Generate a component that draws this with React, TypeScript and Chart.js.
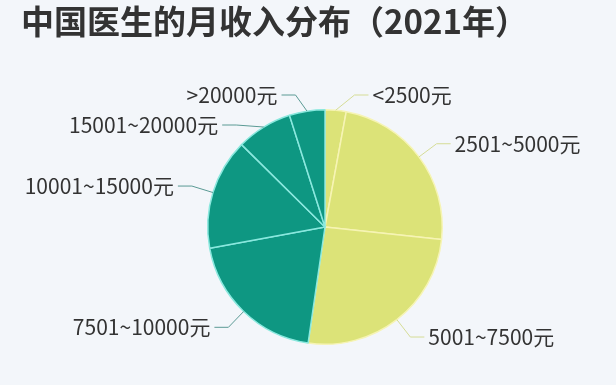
import React, { useEffect, useRef } from "react";
import { Chart, registerables } from "chart.js";

Chart.register(...registerables);

const TITLE = "中国医生的月收入分布（2021年）";
const categories = [
  "<2500元",
  "2501~5000元",
  "5001~7500元",
  "7501~10000元",
  "10001~15000元",
  "15001~20000元",
  ">20000元",
];
const shares = [2.9, 23.8, 25.6, 19.8, 15.3, 7.7, 4.9];

const YELLOW = "#DCE378";
const TEAL = "#0E9782";
const sliceColors = [YELLOW, YELLOW, YELLOW, TEAL, TEAL, TEAL, TEAL];
const sliceBorders = ["#F6F4B4", "#F6F4B4", "#F6F4B4", "#8AE8DE", "#8AE8DE", "#8AE8DE", "#8AE8DE"];
const lineColors = ["#D5DC96", "#D5DC96", "#D5DC96", "#5A9A94", "#5A9A94", "#5A9A94", "#5A9A94"];

const labelPlugin = {
  id: "outerLabels",
  afterDraw(chart: any) {
    const ctx = chart.ctx;
    ctx.save();
    // title
    ctx.fillStyle = "#333333";
    ctx.font = "bold 33px 'Noto Sans CJK SC', 'Noto Sans', sans-serif";
    ctx.textAlign = "left";
    ctx.textBaseline = "middle";
    ctx.fillText(TITLE, 21, 21);

    const meta = chart.getDatasetMeta(0);
    const items: any[] = [];
    meta.data.forEach((arc: any, i: number) => {
      const p = arc.getProps(["x", "y", "startAngle", "endAngle", "outerRadius"], true);
      const mid = (p.startAngle + p.endAngle) / 2;
      const r = p.outerRadius;
      const R2 = r + 22;
      const cos = Math.cos(mid);
      const sin = Math.sin(mid);
      items.push({
        i,
        cx: p.x,
        cy: p.y,
        Rs: r + 18,
        ex: p.x + r * cos,
        ey: p.y + r * sin,
        bx: p.x + R2 * cos,
        by: p.y + R2 * sin,
        right: cos >= 0,
      });
    });

    const topBound = 95;
    const gap = 30;
    [true, false].forEach((side) => {
      const group = items.filter((it) => it.right === side).sort((a, b) => a.by - b.by);
      let prev = -Infinity;
      group.forEach((it) => {
        let y = Math.max(it.by, topBound, prev + gap);
        if (y !== it.by) {
          const dy = y - it.cy;
          if (Math.abs(dy) < it.Rs) {
            const dx = Math.sqrt(it.Rs * it.Rs - dy * dy);
            it.bx = it.cx + (side ? dx : -dx);
          }
          it.by = y;
        }
        prev = y;
      });
    });

    ctx.font = "21px 'Noto Sans CJK SC', 'Noto Sans', sans-serif";
    items.forEach((it) => {
      const dir = it.right ? 1 : -1;
      const endX = it.bx + dir * 14;
      ctx.strokeStyle = lineColors[it.i];
      ctx.lineWidth = 1;
      ctx.beginPath();
      ctx.moveTo(it.ex, it.ey);
      ctx.lineTo(it.bx, it.by);
      ctx.lineTo(endX, it.by);
      ctx.stroke();
      ctx.fillStyle = "#333333";
      ctx.textAlign = it.right ? "left" : "right";
      ctx.textBaseline = "middle";
      ctx.fillText(categories[it.i], endX + dir * 4, it.by);
    });
    ctx.restore();
  },
};

export default function App() {
  const ref = useRef<HTMLCanvasElement | null>(null);
  useEffect(() => {
    if (!ref.current) return;
    const chart = new Chart(ref.current, {
      type: "pie",
      data: {
        labels: categories,
        datasets: [
          {
            data: shares,
            backgroundColor: sliceColors,
            borderColor: sliceBorders,
            borderWidth: 1.5,
          },
        ],
      },
      options: {
        animation: false,
        responsive: false,
        devicePixelRatio: 1,
        layout: { padding: { top: 109, bottom: 40, left: 207, right: 173 } },
        plugins: {
          legend: { display: false },
          tooltip: { enabled: false },
          title: { display: false },
        },
      },
      plugins: [labelPlugin],
    });
    return () => chart.destroy();
  }, []);
  return (
    <div
      style={{
        position: "fixed",
        left: 0,
        top: 0,
        width: 616,
        height: 385,
        background: "#F3F6FA",
      }}
    >
      <canvas ref={ref} width={616} height={385} style={{ display: "block" }} />
    </div>
  );
}
